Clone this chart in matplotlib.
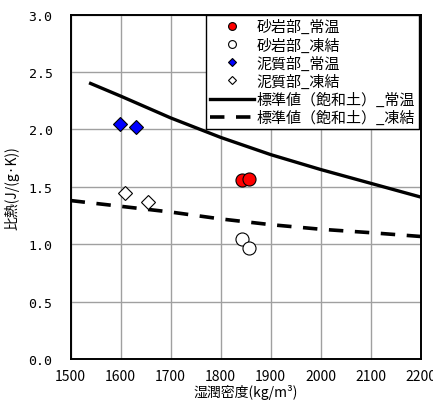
import matplotlib
matplotlib.use('Agg')
from matplotlib import pyplot as plt

plt.rcParams['font.family'] = ['Noto Sans CJK JP', 'DejaVu Sans']

# 砂岩部
sand_warm_x = [1843, 1856]
sand_warm_y = [1.56, 1.565]
sand_frozen_x = [1842, 1856]
sand_frozen_y = [1.043, 0.971]
# 泥質部
mud_warm_x = [1599, 1630]
mud_warm_y = [2.05, 2.017]
mud_frozen_x = [1608, 1654]
mud_frozen_y = [1.443, 1.368]
# 標準値（飽和土）
std_warm_x = [1540, 1600, 1700, 1800, 1900, 2000, 2100, 2200]
std_warm_y = [2.40, 2.29, 2.10, 1.93, 1.78, 1.65, 1.53, 1.41]
std_frozen_x = [1500, 1600, 1700, 1800, 1900, 2000, 2100, 2200]
std_frozen_y = [1.38, 1.33, 1.28, 1.22, 1.17, 1.13, 1.10, 1.067]

x_ticks = [1500, 1600, 1700, 1800, 1900, 2000, 2100, 2200]
y_ticks = [0.0, 0.5, 1.0, 1.5, 2.0, 2.5, 3.0]

fig = plt.figure(figsize=(4.33, 4.10), dpi=100)
ax = fig.add_axes([0.163, 0.122, 0.809, 0.840])

ax.plot(sand_warm_x, sand_warm_y, 'o', ms=9.4, mfc='#ff0000', mec='black', mew=0.8,
        label='砂岩部_常温', zorder=5, linestyle='none')
ax.plot(sand_frozen_x, sand_frozen_y, 'o', ms=9.4, mfc='white', mec='black', mew=0.8,
        label='砂岩部_凍結', zorder=5, linestyle='none')
ax.plot(mud_warm_x, mud_warm_y, 'D', ms=6.8, mfc='#0000ff', mec='black', mew=0.8,
        label='泥質部_常温', zorder=5, linestyle='none')
ax.plot(mud_frozen_x, mud_frozen_y, 'D', ms=6.8, mfc='white', mec='black', mew=0.8,
        label='泥質部_凍結', zorder=5, linestyle='none')
ax.plot(std_warm_x, std_warm_y, color='black', lw=2.4,
        label='標準値（飽和土）_常温', zorder=4)
ax.plot(std_frozen_x, std_frozen_y, color='black', lw=2.6, dashes=(4, 3.2),
        label='標準値（飽和土）_凍結', zorder=4)

ax.set_xlim(1500, 2200)
ax.set_ylim(0, 3.0)
ax.set_xticks(x_ticks)
ax.set_yticks(y_ticks)
ax.set_yticklabels(['%.1f' % v for v in y_ticks], family='DejaVu Sans Mono', fontsize=9.5)
ax.set_xticklabels([str(v) for v in x_ticks], fontsize=10)
ax.grid(True, color='#a0a0a0', lw=1.0)
ax.set_axisbelow(True)
ax.tick_params(axis='y', length=0, pad=13)
ax.tick_params(axis='x', length=0, pad=7)
for s in ax.spines.values():
    s.set_linewidth(1.4)

ax.set_xlabel('湿潤密度(kg/m³)', fontsize=10, labelpad=1)
ax.set_ylabel('比熱(J/(g·K))', fontsize=10)
ax.yaxis.set_label_coords(-0.145, 0.5)

leg = ax.legend(loc='upper right', bbox_to_anchor=(0.995, 1.0), borderaxespad=0,
                fancybox=False, framealpha=1, edgecolor='black', fontsize=10.8,
                labelspacing=0.2, handlelength=2.9, handletextpad=0.15,
                borderpad=0.3, markerscale=0.6)
leg.get_frame().set_linewidth(1.0)

fig.savefig('out.png', dpi=100)
